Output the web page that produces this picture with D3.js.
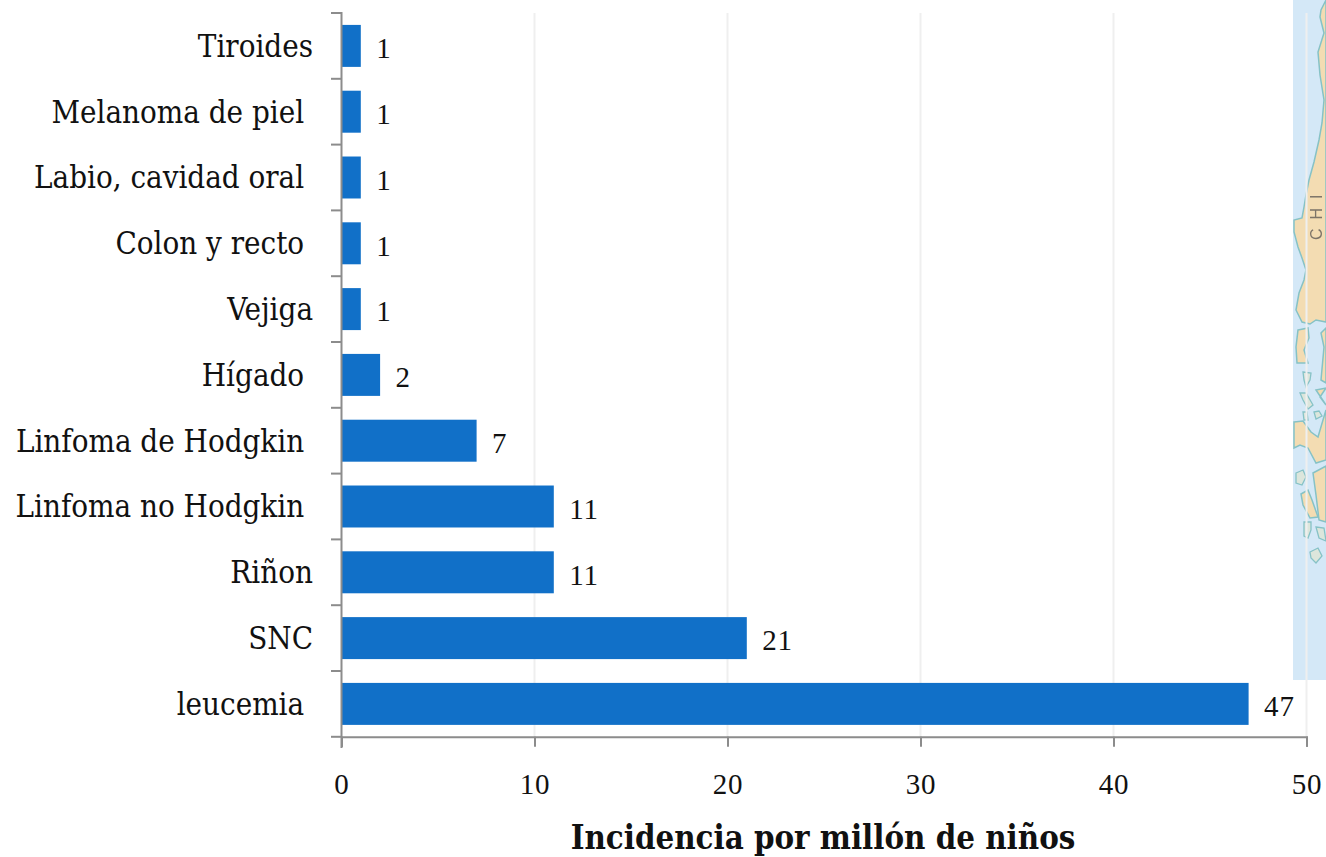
<!DOCTYPE html>
<html><head><meta charset="utf-8">
<script src="https://cdn.jsdelivr.net/npm/d3@7"></script>
<style>
html,body{margin:0;padding:0;background:#fff}
svg{display:block}
text{font-family:"DejaVu Serif","Liberation Serif",serif;fill:#111;white-space:pre}
.cat{font-size:31px;font-stretch:condensed}
.num{font-family:"Liberation Serif",serif;font-size:29px;letter-spacing:0.8px}
.title{font-family:"DejaVu Serif",serif;font-size:32.7px;font-weight:bold;font-stretch:condensed}
</style></head><body>
<svg id="c" width="1326" height="857"></svg>
<script>
const categories=["Tiroides","Melanoma de piel ","Labio, cavidad oral ","Colon y recto ","Vejiga","Hígado ","Linfoma de Hodgkin ","Linfoma no Hodgkin ","Riñon","SNC","leucemia "];
const values=[1,1,1,1,1,2,7,11,11,21,47];
const xTicks=[0,10,20,30,40,50];
const axisTitle="Incidencia por millón de niños";
const mapCoast=[[1326,0],[1321,10],[1320,17],[1324,33],[1318,52],[1320,75],[1324,100],[1322,123],[1319,140],[1314,162],[1309,180],[1306,195],[1304,207],[1302,218],[1294,220],[1294,232],[1298,247],[1302,258],[1306,270],[1304,280],[1299,293],[1296,310],[1302,322],[1310,324],[1316,320],[1326,322]];
const mapLand=[
[[1298,330],[1308,328],[1309,338],[1304,350],[1308,363],[1297,363],[1296,347]],
[[1326,328],[1321,333],[1324,347],[1321,380],[1326,383]],
[[1316,390],[1326,388],[1320,397],[1326,405]],
[[1294,422],[1303,421],[1311,432],[1318,437],[1323,420],[1326,410],[1326,460],[1316,463],[1308,448],[1300,445],[1294,448]],
[[1313,473],[1326,466],[1326,522],[1319,520],[1316,495]],
[[1301,494],[1308,490],[1312,500],[1318,517],[1310,518],[1303,505]]
];
const mapIslets=[
[[1296,473],[1303,470],[1306,477],[1302,485],[1296,483]],
[[1303,372],[1311,373],[1310,380],[1306,387],[1304,380]],
[[1300,393],[1306,393],[1313,405],[1308,409],[1303,400]],
[[1303,412],[1307,412],[1308,420],[1304,420]],
[[1314,412],[1319,411],[1322,416],[1316,419]],
[[1304,522],[1311,522],[1311,530],[1308,538],[1304,536]],
[[1316,527],[1324,528],[1326,541],[1319,538]],
[[1310,552],[1318,548],[1322,556],[1316,563],[1311,558]]
];

const svg=d3.select("#c");
// background map fragment
const bg=svg.append("g").style("filter","blur(0.5px)");
bg.append("rect").attr("x",1293).attr("y",0).attr("width",33).attr("height",680).attr("fill","#d4e8f7");
const poly=d3.line();
const coastStroke="#86c2c6";
bg.append("path").attr("d",poly(mapCoast)+"Z").attr("fill","#f3dcb2").attr("stroke",coastStroke).attr("stroke-width",1.5);
bg.selectAll("path.land").data(mapLand).join("path").attr("class","land")
  .attr("d",d=>poly(d)+"Z").attr("fill","#f3dcb2").attr("stroke",coastStroke).attr("stroke-width",1.5);
bg.selectAll("path.islet").data(mapIslets).join("path").attr("class","islet")
  .attr("d",d=>poly(d)+"Z").attr("fill","#dce6dc").attr("stroke",coastStroke).attr("stroke-width",1.3);
bg.append("text").attr("transform","translate(1322,240) rotate(-90)").attr("font-size",16).style("fill","#7d7468").style("font-family","Liberation Sans").style("letter-spacing","9px").text("CHI");

const x=d3.scaleLinear().domain([0,50]).range([341.5,1306.5]);
const y=d3.scaleBand().domain(categories).range([13,736.8]).paddingInner(0.362).paddingOuter(0.181);

// gridlines
svg.append("g").selectAll("line").data(xTicks.slice(1)).join("line")
  .attr("x1",d=>x(d)).attr("x2",d=>x(d)).attr("y1",13).attr("y2",736.8)
  .attr("stroke","#efefef").attr("stroke-width",2);

// bars
svg.append("g").selectAll("rect").data(values).join("rect")
  .attr("x",x(0)).attr("y",(d,i)=>y(categories[i])).attr("width",d=>x(d)-x(0)).attr("height",y.bandwidth())
  .attr("fill","#1170c8");

// axes
const axColor="#8c8c8c";
const xAxis=svg.append("g").attr("transform","translate(0,736.8)")
  .call(d3.axisBottom(x).tickValues(xTicks).tickSize(10).tickPadding(27).tickFormat(d3.format("d")));
xAxis.select(".domain").attr("stroke",axColor).attr("stroke-width",2);
xAxis.selectAll("line").attr("stroke",axColor).attr("stroke-width",2);
xAxis.selectAll("text").attr("class","num").attr("fill","#111");

const step=y.step();
const yEdges=d3.range(categories.length+1).map(i=>13+i*step);
svg.append("g").selectAll("line").data(yEdges).join("line")
  .attr("x1",331).attr("x2",341.5).attr("y1",d=>d).attr("y2",d=>d).attr("stroke",axColor).attr("stroke-width",2);
svg.append("line").attr("x1",341.5).attr("x2",341.5).attr("y1",12).attr("y2",748).attr("stroke",axColor).attr("stroke-width",2);

// category labels
svg.append("g").selectAll("text").data(categories).join("text").attr("class","cat")
  .attr("x",313).attr("y",d=>y(d)+y.bandwidth()/2+1).attr("dy","0.32em").attr("text-anchor","end").text(d=>d);

// value labels
svg.append("g").selectAll("text").data(values).join("text").attr("class","num")
  .attr("x",d=>x(d)+15.5).attr("y",(d,i)=>y(categories[i])+y.bandwidth()/2+3).attr("dy","0.32em").text(d=>d);

svg.append("text").attr("class","title").attr("x",823).attr("y",849).attr("text-anchor","middle").text(axisTitle);
</script></body></html>
